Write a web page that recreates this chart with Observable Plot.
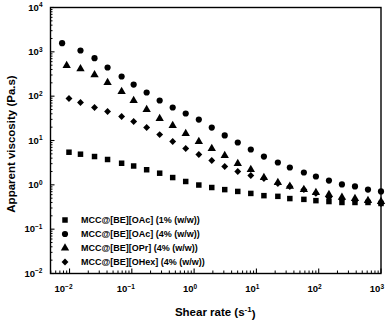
<!DOCTYPE html>
<html><head><meta charset="utf-8">
<script src="https://cdn.jsdelivr.net/npm/d3@7"></script>
<script src="https://cdn.jsdelivr.net/npm/@observablehq/plot@0.6"></script>
<style>
body{margin:0;background:#fff;}
#chart{width:391px;height:322px;}
</style></head><body><div id="chart"></div>
<script>
// Series names and symbols
const seriesNames = ["MCC@[BE][OAc] (1% (w/w))", "MCC@[BE][OAc] (4% (w/w))", "MCC@[BE][OPr] (4% (w/w))", "MCC@[BE][OHex] (4% (w/w))"];
const seriesSymbols = ["square", "circle", "triangle", "diamond2"];
// Shear rate (1/s) of points 2..25 (shared) and of the first point of each series
const shearRate = [0.015, 0.0252, 0.0408, 0.0686, 0.107, 0.173, 0.280, 0.453, 0.733, 1.19, 1.92, 3.10, 5.02, 8.13, 13.2, 22.1, 34.4, 57.8, 90.2, 146, 236, 382, 618, 1000];
const firstShear = [0.0098, 0.0076, 0.0090, 0.0098];
// Apparent viscosity (Pa.s)
const viscOAc1 = [5.44, 4.91, 4.35, 3.73, 3.07, 2.66, 2.19, 1.83, 1.46, 1.19, 0.99, 0.87, 0.78, 0.71, 0.64, 0.57, 0.55, 0.49, 0.47, 0.44, 0.42, 0.40, 0.40, 0.40, 0.38];
const viscOAc4 = [1567, 1072, 718, 443, 278, 183, 121, 79.8, 55.5, 40.6, 29.7, 19.6, 13.0, 9.02, 6.26, 4.35, 3.19, 2.46, 1.90, 1.54, 1.25, 1.02, 0.92, 0.78, 0.71];
const viscOPr4 = [492, 414, 303, 203, 127, 79.8, 50.0, 31.3, 21.8, 14.4, 9.49, 6.59, 4.58, 3.03, 2.22, 1.46, 1.13, 0.92, 0.78, 0.67, 0.605, 0.52, 0.49, 0.44, 0.42];
const viscOHex4 = [88.6, 71.9, 55.5, 45.1, 34.8, 26.8, 19.6, 13.6, 9.49, 6.59, 4.83, 3.54, 2.59, 2.00, 1.62, 1.39, 1.07, 0.92, 0.78, 0.64, 0.52, 0.47, 0.44, 0.42, 0.38];
// Axis ticks
const xDecades = [0.01, 0.1, 1, 10, 100, 1000];
const yDecades = [0.01, 0.1, 1, 10, 100, 1000, 10000];

const allVisc = [viscOAc1, viscOAc4, viscOPr4, viscOHex4];
const data = [];
allVisc.forEach((vals, s) => vals.forEach((v, i) => {
  data.push({series: seriesNames[s], x: i === 0 ? firstShear[s] : shearRate[i - 1], y: v});
}));
const minorOf = (decs, lo, hi) => {
  const out = [];
  for (const d of decs) for (let m = 2; m <= 9; m++) { const v = d * m; if (v > lo && v < hi) out.push(v); }
  return out;
};
const xDomain = [0.00495, 1000];
const yDomain = [0.01, 10000];
const xMinor = minorOf([0.001, ...xDecades], xDomain[0], xDomain[1]);
const yMinor = minorOf(yDecades, yDomain[0], yDomain[1]);

const W = 391, H = 322, mL = 50, mR = 10.5, mT = 7, mB = 49;
const fw = W - mL - mR, fh = H - mT - mB;
const expFmt = d => String(Math.round(Math.log10(d)));

const svg = Plot.plot({
  width: W, height: H,
  marginLeft: mL, marginRight: mR, marginTop: mT, marginBottom: mB,
  style: {fontFamily: "'Liberation Sans', Arial, sans-serif", fontWeight: "bold", fontSize: "9.5px", color: "#000", background: "#fff"},
  x: {type: "log", domain: xDomain},
  y: {type: "log", domain: yDomain},
  symbol: {domain: seriesNames, range: seriesSymbols},
  marks: [
    Plot.axisX(xDecades, {tickSize: 0, tickPadding: 12, tickFormat: expFmt, label: null}),
    Plot.axisY(yDecades, {tickSize: 0, tickPadding: 8, tickFormat: expFmt, label: null}),
    Plot.tickX(xDecades, {x: d => d, insetTop: fh - 4.5, stroke: "#000", strokeWidth: 1.1}),
    Plot.tickX(xMinor, {x: d => d, insetTop: fh - 2.5, stroke: "#000", strokeWidth: 1}),
    Plot.tickY(yDecades, {y: d => d, insetRight: fw - 4.5, stroke: "#000", strokeWidth: 1.1}),
    Plot.tickY(yMinor, {y: d => d, insetRight: fw - 2.5, stroke: "#000", strokeWidth: 1}),
    Plot.dot(data, {x: "x", y: "y", symbol: "series", r: 3.1, fill: "#000", stroke: "none"}),
    Plot.frame({stroke: "#000", strokeWidth: 1.4})
  ]
});

const sel = d3.select(svg);
// superscript tick labels 10^n
sel.selectAll('[aria-label="x-axis tick label"] text, [aria-label="y-axis tick label"] text').each(function() {
  const t = d3.select(this);
  const e = t.text().replace("-", "\u2212");
  t.text(null);
  t.append("tspan").text("10");
  t.append("tspan").attr("dy", "-0.5em").attr("font-size", "6.5px").text(e);
});
sel.selectAll('[aria-label="x-axis tick label"] text').attr("text-anchor", "end").attr("dx", 3);

// axis titles
const ff = "'Liberation Sans', Arial, sans-serif";
sel.append("text").attr("transform", `translate(15,${mT + fh / 2 + 4}) rotate(-90)`)
  .attr("text-anchor", "middle").attr("font-family", ff).attr("font-weight", "bold").attr("font-size", "11.5px").attr("fill", "#000")
  .text("Apparent viscosity (Pa.s)");
const xt = sel.append("text").attr("x", mL + fw / 2).attr("y", 316)
  .attr("text-anchor", "middle").attr("font-family", ff).attr("font-weight", "bold").attr("font-size", "11.5px").attr("fill", "#000");
xt.append("tspan").text("Shear rate (s");
xt.append("tspan").attr("dy", "-0.5em").attr("font-size", "8px").text("-1");
xt.append("tspan").attr("dy", "0.5em").text(")");

// legend
const lg = sel.append("g").attr("font-family", ff).attr("font-weight", "bold").attr("font-size", "9px").attr("fill", "#000").attr("text-anchor", "start");
const symMap = {square: d3.symbolSquare, circle: d3.symbolCircle, triangle: d3.symbolTriangle, diamond2: d3.symbolDiamond2};
seriesNames.forEach((name, i) => {
  const cy = 220 + i * 14;
  lg.append("path").attr("transform", `translate(65,${cy})`)
    .attr("d", d3.symbol(symMap[seriesSymbols[i]], Math.PI * 3.1 * 3.1)());
  lg.append("text").attr("x", 81).attr("y", cy).attr("dy", "0.35em").attr("text-anchor", "start").text(name);
});

document.getElementById("chart").appendChild(svg);
</script>
</body></html>
